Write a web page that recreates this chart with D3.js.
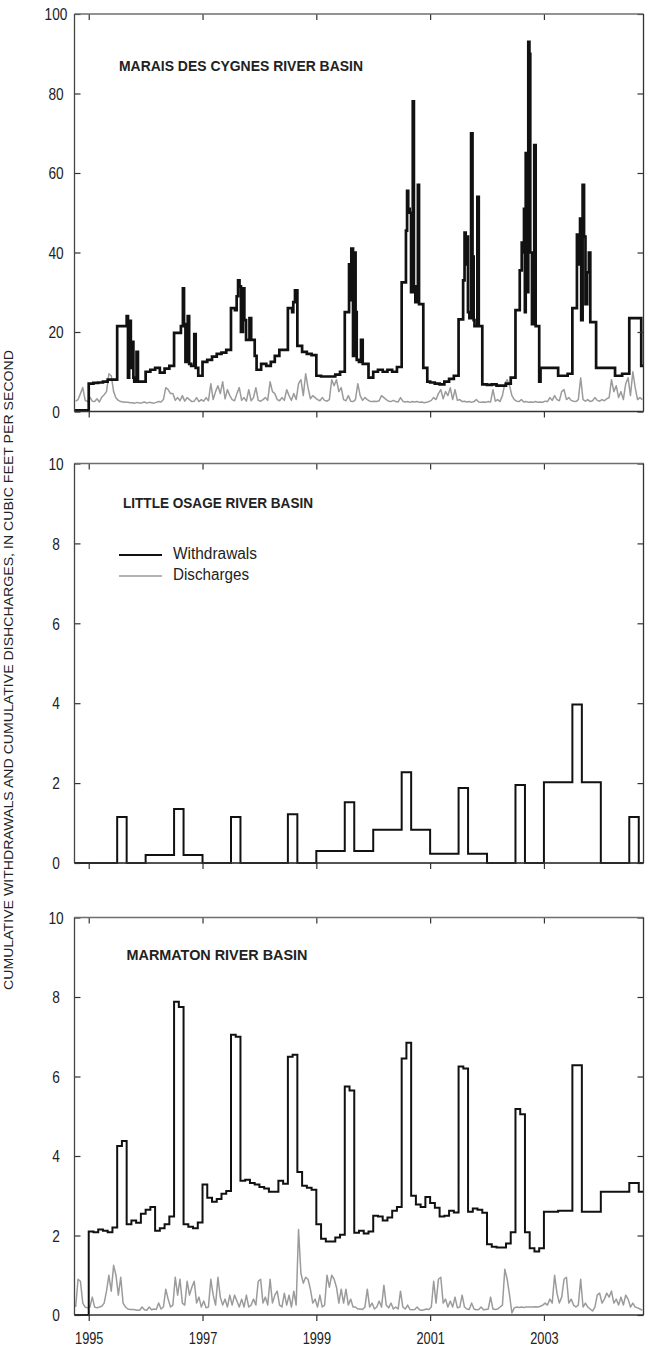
<!DOCTYPE html>
<html>
<head>
<meta charset="utf-8">
<script src="https://cdn.jsdelivr.net/npm/d3@7"></script>
<style>
  body { margin: 0; background: #fff; }
  svg text { font-family: "Liberation Sans Narrow", "Arial Narrow", "Liberation Sans", sans-serif; fill: #222; }
</style>
</head>
<body>
<svg id="chart" width="649" height="1347"></svg>
<script>
// ---------------- data ----------------
// time axis in decimal years: water years 1995-2004 (Oct 1994 - Sep 2004)
const startYear = 1994.75;
const endYear = 2004.75;
const yearTicks = [1995, 1997, 1999, 2001, 2003];
const maraisTicks = [0, 20, 40, 60, 80, 100];
const smallTicks = [0, 2, 4, 6, 8, 10];

// Marais des Cygnes withdrawals: [decimal year where value begins, cfs]
const maraisWithdrawals = [
  [1994.75, 0.3],
  [1995.0, 7.0], [1995.083, 7.2], [1995.167, 7.3], [1995.25, 7.5], [1995.333, 8.0],
  [1995.5, 21.5], [1995.667, 24.0], [1995.69, 8.5], [1995.71, 22.8], [1995.74, 17.5], [1995.755, 11.0], [1995.77, 17.5], [1995.785, 8.5], [1995.80, 7.5], [1995.84, 15.0], [1995.865, 7.5],
  [1996.0, 10.0], [1996.083, 10.5], [1996.167, 11.0], [1996.25, 9.8], [1996.333, 10.8], [1996.417, 11.5],
  [1996.5, 19.8], [1996.62, 21.5], [1996.655, 31.0], [1996.675, 22.0], [1996.70, 12.5], [1996.74, 24.0], [1996.765, 12.0], [1996.80, 11.5], [1996.855, 19.5], [1996.88, 11.0], [1996.925, 9.0],
  [1997.0, 12.5], [1997.083, 13.0], [1997.167, 13.8], [1997.25, 14.5], [1997.333, 14.8], [1997.417, 15.5],
  [1997.5, 26.0], [1997.57, 25.5], [1997.6, 29.0], [1997.625, 33.0], [1997.65, 31.5], [1997.675, 20.0], [1997.71, 31.0], [1997.735, 23.0], [1997.765, 18.0], [1997.825, 23.5], [1997.855, 18.0], [1997.917, 14.0], [1997.95, 10.5],
  [1998.03, 12.0], [1998.12, 11.5], [1998.2, 12.5], [1998.27, 14.0], [1998.35, 15.5],
  [1998.5, 26.0], [1998.575, 25.0], [1998.595, 27.5], [1998.625, 30.5], [1998.667, 16.5], [1998.75, 15.0], [1998.833, 14.5], [1998.917, 14.2],
  [1999.0, 9.0], [1999.083, 8.8], [1999.333, 9.3], [1999.417, 10.0],
  [1999.5, 25.0], [1999.575, 37.0], [1999.595, 28.0], [1999.615, 41.0], [1999.645, 14.0], [1999.665, 40.0], [1999.69, 25.0], [1999.71, 13.0], [1999.75, 12.5], [1999.785, 18.0], [1999.815, 12.0], [1999.917, 8.5],
  [2000.0, 10.0], [2000.083, 10.5], [2000.167, 10.0], [2000.25, 10.5], [2000.333, 10.0], [2000.417, 11.2],
  [2000.5, 32.5], [2000.575, 45.5], [2000.595, 55.5], [2000.615, 51.0], [2000.64, 50.0], [2000.665, 30.0], [2000.695, 78.0], [2000.715, 31.5], [2000.74, 27.5], [2000.785, 57.0], [2000.805, 27.0], [2000.88, 11.0], [2000.95, 7.5],
  [2001.0, 7.3], [2001.083, 7.0], [2001.167, 6.8], [2001.25, 7.5], [2001.333, 8.2], [2001.417, 9.0],
  [2001.5, 23.2], [2001.58, 33.0], [2001.605, 45.0], [2001.625, 37.0], [2001.645, 44.0], [2001.665, 25.0], [2001.69, 23.5], [2001.72, 70.0], [2001.745, 39.0], [2001.765, 23.0], [2001.78, 21.5], [2001.83, 54.0], [2001.855, 21.5], [2001.917, 6.8],
  [2002.0, 6.7], [2002.083, 6.8], [2002.167, 6.5], [2002.333, 7.0], [2002.417, 8.5],
  [2002.5, 25.5], [2002.575, 35.5], [2002.61, 42.5], [2002.63, 40.0], [2002.65, 51.0], [2002.665, 25.0], [2002.68, 65.0], [2002.705, 30.0], [2002.725, 93.0], [2002.745, 90.0], [2002.76, 40.0], [2002.79, 22.0], [2002.81, 40.0], [2002.83, 67.0], [2002.855, 21.5], [2002.917, 7.5], [2002.94, 11.0],
  [2003.25, 9.0], [2003.417, 9.5],
  [2003.5, 26.0], [2003.58, 44.5], [2003.615, 37.0], [2003.635, 48.5], [2003.655, 23.0], [2003.68, 57.0], [2003.705, 44.0], [2003.73, 27.0], [2003.76, 35.0], [2003.79, 40.0], [2003.815, 22.5], [2003.917, 11.0],
  [2004.25, 9.0], [2004.375, 9.5],
  [2004.5, 23.5], [2004.71, 11.5]
];

// Marais des Cygnes discharges, half-month values, one row per water year
const maraisDischarges = [
  2.6, 3.0, 4.5, 6.0, 2.8, 2.5, 3.6, 2.6, 2.5, 3.2, 2.4, 3.6, 4.2, 5.0, 9.5, 9.0, 5.0, 3.4, 2.8, 2.5, 2.4, 2.3, 2.3, 2.2,
  2.2, 2.1, 2.3, 2.1, 2.2, 2.4, 2.1, 2.3, 2.2, 2.1, 2.3, 2.5, 2.4, 3.0, 6.0, 5.5, 4.5, 4.5, 2.8, 3.5, 2.7, 4.0, 2.6, 3.5,
  3.0, 2.5, 2.6, 3.5, 2.5, 3.0, 2.6, 3.5, 2.7, 7.0, 3.0, 5.0, 6.5, 4.5, 7.5, 3.2, 5.5, 4.0, 3.0, 2.7, 4.5, 6.0, 2.8, 3.5,
  2.6, 5.5, 2.7, 3.5, 6.0, 2.8, 2.6, 3.0, 3.5, 2.8, 7.5, 5.0, 4.5, 3.0, 2.7, 3.5, 2.8, 5.5, 4.0, 2.8, 4.5, 3.0, 7.0, 8.0,
  4.0, 9.5, 6.0, 3.2, 4.0, 3.5, 3.0, 2.7, 3.5, 2.8, 2.6, 3.0, 8.0, 6.5, 8.0, 5.0, 6.0, 3.0, 2.7, 4.0, 2.6, 2.5, 3.0, 7.0,
  4.0, 2.8, 3.5, 3.0, 2.6, 2.5, 2.6, 2.5, 2.7, 4.0, 3.5, 3.0, 2.6, 2.5, 2.8, 2.5, 2.4, 3.5, 2.6, 2.4, 2.5, 2.3, 2.5, 2.4,
  2.5, 2.3, 2.4, 2.2, 2.3, 2.5, 2.8, 3.5, 3.0, 4.5, 5.5, 3.2, 5.0, 4.0, 6.0, 3.0, 5.5, 2.8, 3.0, 2.5, 2.6, 2.4, 2.5, 2.3,
  2.5, 3.0, 2.4, 2.3, 2.4, 2.3, 2.5, 2.4, 5.5, 2.6, 3.0, 2.5, 4.0, 7.0, 8.0, 6.5, 4.0, 3.0, 2.6, 2.5, 3.0, 2.4, 2.5, 2.3,
  2.4, 2.3, 2.5, 2.3, 2.4, 2.3, 2.6, 2.5, 3.5, 2.8, 4.0, 3.0, 2.7, 5.0, 5.5, 3.0, 3.5, 2.8, 2.6, 2.5, 3.0, 8.5, 3.0, 2.6,
  3.0, 2.5, 2.7, 3.5, 2.8, 2.6, 3.0, 2.7, 3.2, 3.5, 8.0, 5.0, 6.5, 3.5, 5.0, 3.0, 7.0, 8.5, 4.0, 10.0, 6.0, 3.0, 3.5, 3.0
];

// Little Osage withdrawals, monthly (Oct-Sep rows)
const osageWithdrawals = [
  0, 0, 0, 0, 0, 0, 0, 0, 0, 1.15, 1.15, 0,
  0, 0, 0, 0.2, 0.2, 0.2, 0.2, 0.2, 0.2, 1.35, 1.35, 0.2,
  0.2, 0.2, 0.2, 0, 0, 0, 0, 0, 0, 1.15, 1.15, 0,
  0, 0, 0, 0, 0, 0, 0, 0, 0, 1.22, 1.22, 0,
  0, 0, 0, 0.3, 0.3, 0.3, 0.3, 0.3, 0.3, 1.52, 1.52, 0.3,
  0.3, 0.3, 0.3, 0.83, 0.83, 0.83, 0.83, 0.83, 0.83, 2.27, 2.27, 0.83,
  0.83, 0.83, 0.83, 0.23, 0.23, 0.23, 0.23, 0.23, 0.23, 1.88, 1.88, 0.23,
  0.23, 0.23, 0.23, 0, 0, 0, 0, 0, 0, 1.95, 1.95, 0,
  0, 0, 0, 2.02, 2.02, 2.02, 2.02, 2.02, 2.02, 3.97, 3.97, 2.02,
  2.02, 2.02, 2.02, 0, 0, 0, 0, 0, 0, 1.15, 1.15, 0
];
// Little Osage has no permitted discharges over the period
const osageDischarges = [[startYear, 0], [endYear, 0]];

// Marmaton withdrawals, monthly (Oct-Sep rows)
const marmatonWithdrawals = [
  0, 0, 0, 2.1, 2.08, 2.15, 2.12, 2.08, 2.2, 4.25, 4.38, 2.28,
  2.38, 2.32, 2.55, 2.65, 2.72, 2.12, 2.18, 2.28, 2.48, 7.88, 7.75, 2.28,
  2.22, 2.18, 2.33, 3.28, 2.95, 2.85, 2.92, 3.05, 3.12, 7.05, 7.0, 3.38,
  3.4, 3.32, 3.28, 3.22, 3.18, 3.1, 3.1, 3.38, 3.3, 6.5, 6.55, 3.6,
  3.25, 3.2, 3.15, 2.28, 1.92, 1.85, 1.85, 1.95, 2.02, 5.75, 5.65, 2.07,
  2.12, 2.05, 2.1, 2.5, 2.48, 2.38, 2.45, 2.62, 2.72, 6.45, 6.85, 3.0,
  2.78, 2.72, 2.97, 2.82, 2.7, 2.48, 2.5, 2.62, 2.58, 6.25, 6.2, 2.6,
  2.68, 2.65, 2.57, 1.78, 1.72, 1.7, 1.7, 1.8, 2.08, 5.18, 5.05, 2.08,
  1.68, 1.6, 1.68, 2.6, 2.6, 2.6, 2.62, 2.62, 2.62, 6.28, 6.28, 2.6,
  2.6, 2.6, 2.6, 3.1, 3.1, 3.1, 3.1, 3.1, 3.1, 3.32, 3.32, 3.1
];

// Marmaton discharges, half-month values, one row per water year
const marmatonDischarges = [
  0.2, 0.9, 0.85, 0.3, 0.2, 0.18, 0.2, 0.45, 0.2, 0.18, 0.2, 0.22, 0.3, 0.6, 1.0, 0.6, 1.25, 1.0, 0.5, 0.95, 0.3, 0.2, 0.15, 0.14,
  0.14, 0.13, 0.12, 0.12, 0.2, 0.13, 0.12, 0.2, 0.13, 0.15, 0.14, 0.3, 0.15, 0.2, 0.65, 0.4, 0.2, 0.25, 0.95, 0.5, 0.9, 0.3, 0.25, 0.85,
  0.5, 0.7, 0.85, 0.3, 0.45, 0.2, 0.35, 0.18, 0.2, 0.9, 0.5, 0.25, 0.95, 0.45, 0.25, 0.4, 0.2, 0.5, 0.25, 0.5, 0.35, 0.2, 0.4, 0.2,
  0.5, 0.2, 0.25, 0.4, 0.25, 0.85, 0.9, 0.3, 0.45, 0.25, 0.9, 0.3, 0.5, 0.6, 0.25, 0.2, 0.55, 0.25, 0.5, 0.2, 0.6, 0.25, 2.15, 1.05,
  0.8, 0.95, 0.9, 0.65, 0.3, 0.4, 0.2, 0.5, 0.2, 0.25, 1.0, 0.7, 1.0, 0.9, 0.7, 0.3, 0.65, 0.3, 0.65, 0.25, 0.4, 0.2, 0.2, 0.15,
  0.15, 0.14, 0.2, 0.65, 0.2, 0.3, 0.15, 0.2, 0.35, 0.2, 0.75, 0.25, 0.18, 0.3, 0.15, 0.2, 0.15, 0.6, 0.2, 0.15, 0.25, 0.14, 0.13, 0.14,
  0.2, 0.13, 0.12, 0.13, 0.15, 0.14, 0.2, 0.85, 0.3, 0.9, 0.95, 0.3, 0.4, 0.2, 0.35, 0.2, 0.45, 0.18, 0.2, 0.5, 0.2, 0.15, 0.14, 0.3,
  0.15, 0.13, 0.14, 0.2, 0.13, 0.14, 0.15, 0.45, 0.15, 0.14, 0.15, 0.2, 0.25, 1.15, 0.9, 0.5, 0.05, 0.18, 0.2, 0.19, 0.2, 0.19, 0.2, 0.2,
  0.2, 0.2, 0.21, 0.2, 0.22, 0.25, 0.3, 0.25, 0.4, 0.3, 1.0, 0.55, 0.3, 0.45, 0.9, 0.95, 0.3, 0.4, 0.25, 0.2, 0.25, 0.9, 0.2, 0.3,
  0.2, 0.15, 0.1, 0.2, 0.5, 0.55, 0.3, 0.4, 0.55, 0.45, 0.6, 0.3, 0.4, 0.25, 0.45, 0.25, 0.5, 0.4, 0.2, 0.3, 0.2, 0.18, 0.15, 0.12
];

// ---------------- helpers ----------------
const monthlySteps = vals => vals.map((v, i) => [startYear + i / 12, v]).concat([[endYear, vals[vals.length - 1]]]);
const halfMonthPoints = vals => vals.map((v, i) => [startYear + (i + 0.5) / 24, v]);
const changeSteps = pts => pts.concat([[endYear, pts[pts.length - 1][1]]]);

// condensed digits: squeeze each label to a fixed advance per character
const squeeze = (sel, perChar) => sel.each(function () {
  const n = this.textContent.length;
  if (n) d3.select(this).attr("textLength", n * perChar).attr("lengthAdjust", "spacingAndGlyphs");
});

const panels = [
  { id: "marais", title: "MARAIS DES CYGNES RIVER BASIN", titleX: 119, titleY: 71, titleLen: 244,
    top: 14, bottom: 411.5, yMax: 100, ticks: maraisTicks,
    withdrawals: changeSteps(maraisWithdrawals), discharges: halfMonthPoints(maraisDischarges), wWidth: 2.7 },
  { id: "osage", title: "LITTLE OSAGE RIVER BASIN", titleX: 123, titleY: 508, titleLen: 190,
    top: 463.5, bottom: 863, yMax: 10, ticks: smallTicks, legend: true,
    withdrawals: monthlySteps(osageWithdrawals), discharges: osageDischarges, wWidth: 2.0 },
  { id: "marmaton", title: "MARMATON RIVER BASIN", titleX: 126.5, titleY: 959.5, titleLen: 181,
    top: 917.5, bottom: 1315, yMax: 10, ticks: smallTicks, yearLabels: true,
    withdrawals: monthlySteps(marmatonWithdrawals), discharges: halfMonthPoints(marmatonDischarges), wWidth: 2.0 }
];

const left = 74.5, right = 643.5;
const svg = d3.select("#chart");
const x = d3.scaleLinear().domain([startYear, endYear]).range([left, right]);

panels.forEach(p => {
  const y = d3.scaleLinear().domain([0, p.yMax]).range([p.bottom, p.top]);
  const g = svg.append("g").attr("class", "panel-" + p.id);

  g.append("clipPath").attr("id", "clip-" + p.id)
    .append("rect").attr("x", left).attr("y", p.top).attr("width", right - left).attr("height", p.bottom - p.top + 2);

  // discharges (gray) beneath withdrawals (black)
  const dLine = d3.line().x(d => x(d[0])).y(d => y(d[1])).curve(d3.curveLinear);
  g.append("path").datum(p.discharges)
    .attr("clip-path", `url(#clip-${p.id})`)
    .attr("d", dLine).attr("fill", "none").attr("stroke", "#9b9b9b").attr("stroke-width", 1.5)
    .attr("stroke-linejoin", "round");

  const wLine = d3.line().x(d => x(d[0])).y(d => y(d[1])).curve(d3.curveStepAfter);
  g.append("path").datum(p.withdrawals)
    .attr("clip-path", `url(#clip-${p.id})`)
    .attr("d", wLine).attr("fill", "none").attr("stroke", "#111").attr("stroke-width", p.wWidth)
    .attr("stroke-linejoin", "miter");

  // left axis: ticks point inward, labels centred left of the axis
  const la = g.append("g").attr("transform", `translate(${left},0)`)
    .call(d3.axisLeft(y).tickValues(p.ticks).tickSize(-6).tickSizeOuter(0).tickFormat(d3.format("d")));
  la.select(".domain").remove();
  la.selectAll("line").attr("stroke", "#333").attr("stroke-width", 1.2);
  la.selectAll("text").attr("x", -18.5).attr("dy", "0.36em").attr("text-anchor", "middle")
    .attr("font-size", 16).attr("font-family", null).style("fill", "#222")
    .call(squeeze, 7.6);

  // right axis: inward ticks only
  const ra = g.append("g").attr("transform", `translate(${right},0)`)
    .call(d3.axisRight(y).tickValues(p.ticks).tickSize(-6).tickSizeOuter(0).tickFormat(""));
  ra.select(".domain").remove();
  ra.selectAll("line").attr("stroke", "#333").attr("stroke-width", 1.2);

  // top axis: inward ticks only
  const ta = g.append("g").attr("transform", `translate(0,${p.top})`)
    .call(d3.axisTop(x).tickValues(yearTicks).tickSize(-6).tickSizeOuter(0).tickFormat(""));
  ta.select(".domain").remove();
  ta.selectAll("line").attr("stroke", "#333").attr("stroke-width", 1.2);

  // bottom axis: outward ticks, year labels on the lowest panel
  const ba = g.append("g").attr("transform", `translate(0,${p.bottom})`)
    .call(d3.axisBottom(x).tickValues(yearTicks).tickSize(6).tickSizeOuter(0)
      .tickFormat(p.yearLabels ? d3.format("d") : ""));
  ba.select(".domain").remove();
  ba.selectAll("line").attr("stroke", "#333").attr("stroke-width", 1.2);
  ba.selectAll("text").attr("y", 18).attr("dy", "0.71em").attr("font-size", 16)
    .attr("font-family", null).style("fill", "#222")
    .call(squeeze, 7.1);

  // frame
  g.append("line").attr("x1", left).attr("x2", right).attr("y1", p.top).attr("y2", p.top)
    .attr("stroke", "#6e6e6e").attr("stroke-width", 1.3);
  g.append("line").attr("x1", right).attr("x2", right).attr("y1", p.top).attr("y2", p.bottom)
    .attr("stroke", "#333").attr("stroke-width", 1.3);
  g.append("line").attr("x1", left).attr("x2", left).attr("y1", p.top).attr("y2", p.bottom)
    .attr("stroke", "#444").attr("stroke-width", 1.3);
  g.append("line").attr("x1", left).attr("x2", right).attr("y1", p.bottom).attr("y2", p.bottom)
    .attr("stroke", "#333").attr("stroke-width", 1.3);

  // basin title
  g.append("text").attr("x", p.titleX).attr("y", p.titleY)
    .attr("font-size", 15.5).attr("font-weight", "bold")
    .attr("textLength", p.titleLen).attr("lengthAdjust", "spacingAndGlyphs")
    .text(p.title);

  if (p.legend) {
    const items = [
      { label: "Withdrawals", color: "#111", width: 2.0, y: 555, len: 84 },
      { label: "Discharges", color: "#9b9b9b", width: 1.5, y: 576, len: 76 }
    ];
    const lg = g.append("g").attr("class", "legend");
    items.forEach(it => {
      lg.append("line").attr("x1", 119).attr("x2", 162).attr("y1", it.y).attr("y2", it.y)
        .attr("stroke", it.color).attr("stroke-width", it.width);
      lg.append("text").attr("x", 173).attr("y", it.y + 3.5).attr("font-size", 16)
        .attr("textLength", it.len).attr("lengthAdjust", "spacingAndGlyphs").text(it.label);
    });
  }
});

// shared y-axis title
svg.append("text")
  .attr("transform", "translate(13,670) rotate(-90)")
  .attr("text-anchor", "middle")
  .attr("font-size", 13.5)
  .attr("textLength", 640).attr("lengthAdjust", "spacingAndGlyphs")
  .text("CUMULATIVE WITHDRAWALS AND CUMULATIVE DISHCHARGES, IN CUBIC FEET PER SECOND");
</script>
</body>
</html>
